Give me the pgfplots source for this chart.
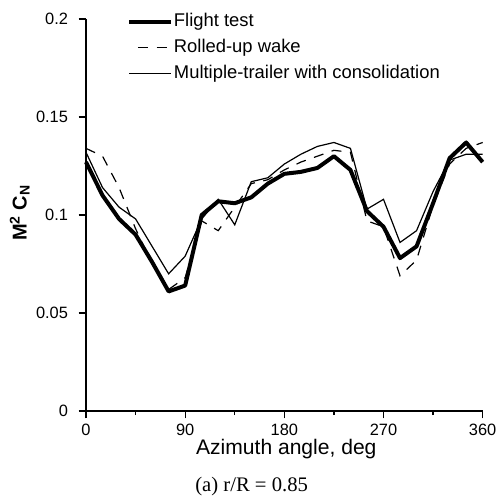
\documentclass[border=0pt]{standalone}
\usepackage{fontspec}
\setmainfont{Liberation Sans}
\newfontfamily\serifcap{Liberation Serif}
\usepackage{pgfplots}
\pgfplotsset{compat=1.18}

\begin{document}
\begin{tikzpicture}
\path[use as bounding box] (-64.5pt,-64.5pt) rectangle (310.5pt,308.25pt);
\begin{axis}[
  scale only axis, width=297.5pt, height=294pt,
  xmin=0, xmax=360, ymin=0, ymax=0.2,
  axis lines=left, axis line style={-, line width=0.9pt},
  xtick={0,90,180,270,360}, xticklabels={0,90,180,270,360},
  minor xtick={45,135,225,315},
  ytick={0,0.05,0.1,0.15,0.2}, yticklabels={0,0.05,0.1,0.15,0.2},
  tick align=outside, major tick length=5.5pt, minor tick length=3pt,
  tick style={line width=0.9pt, black},
  ticklabel style={font=\fontsize{12.3}{14}\selectfont},
  yticklabel style={xshift=-4.5pt},
  xticklabel style={yshift=-1pt},
  xlabel={Azimuth angle, deg},
  xlabel style={at={(axis description cs:0.505,-0.1122)}, anchor=base, font=\fontsize{15.8}{18}\selectfont},
  ylabel={\textbf{M\textsuperscript{2} C\textsubscript{N}}},
  ylabel style={at={(axis description cs:-0.1495,0.505)}, anchor=base, font=\fontsize{15}{17}\selectfont},
  clip=false,
  legend cell align=left,
  legend style={draw=none, fill=none, at={(axis description cs:0.1034,1.0198)}, anchor=north west,
    inner sep=0pt, row sep=4.5pt, column sep=0pt,
    font=\fontsize{13.8}{16}\selectfont,
    nodes={inner sep=1pt, text height=10pt, text depth=3pt}},
  legend image code/.code={\draw[#1, dash phase=7.5pt] (0pt,0pt) -- (31pt,0pt);},
]
\addplot[black, line width=3pt, line join=round] coordinates {
(0,0.127) (15,0.110) (30,0.098) (45,0.090) (60,0.076) (75,0.061) (90,0.064)
(105,0.100) (120,0.107) (135,0.106) (150,0.109) (165,0.116) (180,0.121)
(195,0.122) (210,0.124) (225,0.130) (240,0.123) (255,0.102) (270,0.094)
(285,0.078) (300,0.084) (315,0.106) (330,0.129) (345,0.137) (360,0.127)};
\addlegendentry{Flight test}
\addplot[black, line width=0.9pt, dash pattern=on 7.5pt off 6.5pt] coordinates {
(0,0.134) (15,0.130) (30,0.114) (45,0.093) (60,0.075) (75,0.062) (90,0.068)
(105,0.097) (120,0.092) (135,0.104) (150,0.116) (165,0.118) (180,0.123)
(195,0.127) (210,0.130) (225,0.133) (240,0.132) (255,0.097) (270,0.094)
(285,0.069) (300,0.077) (315,0.105) (330,0.126) (345,0.134) (360,0.137)};
\addlegendentry{Rolled-up wake}
\addplot[black, line width=0.9pt] coordinates {
(0,0.132) (15,0.114) (30,0.104) (45,0.098) (60,0.084) (75,0.070) (90,0.079)
(105,0.098) (120,0.108) (135,0.095) (150,0.117) (165,0.119) (180,0.126)
(195,0.131) (210,0.135) (225,0.137) (240,0.134) (255,0.103) (270,0.108)
(285,0.086) (300,0.092) (315,0.112) (330,0.128) (345,0.131) (360,0.131)};
\addlegendentry{Multiple-trailer with consolidation}
\node[anchor=base west, inner sep=0pt, font=\serifcap\fontsize{15.5}{17}\selectfont] at (axis description cs:0.2748,-0.2059) {(a) r/R = 0.85};
\end{axis}
\end{tikzpicture}
\end{document}
